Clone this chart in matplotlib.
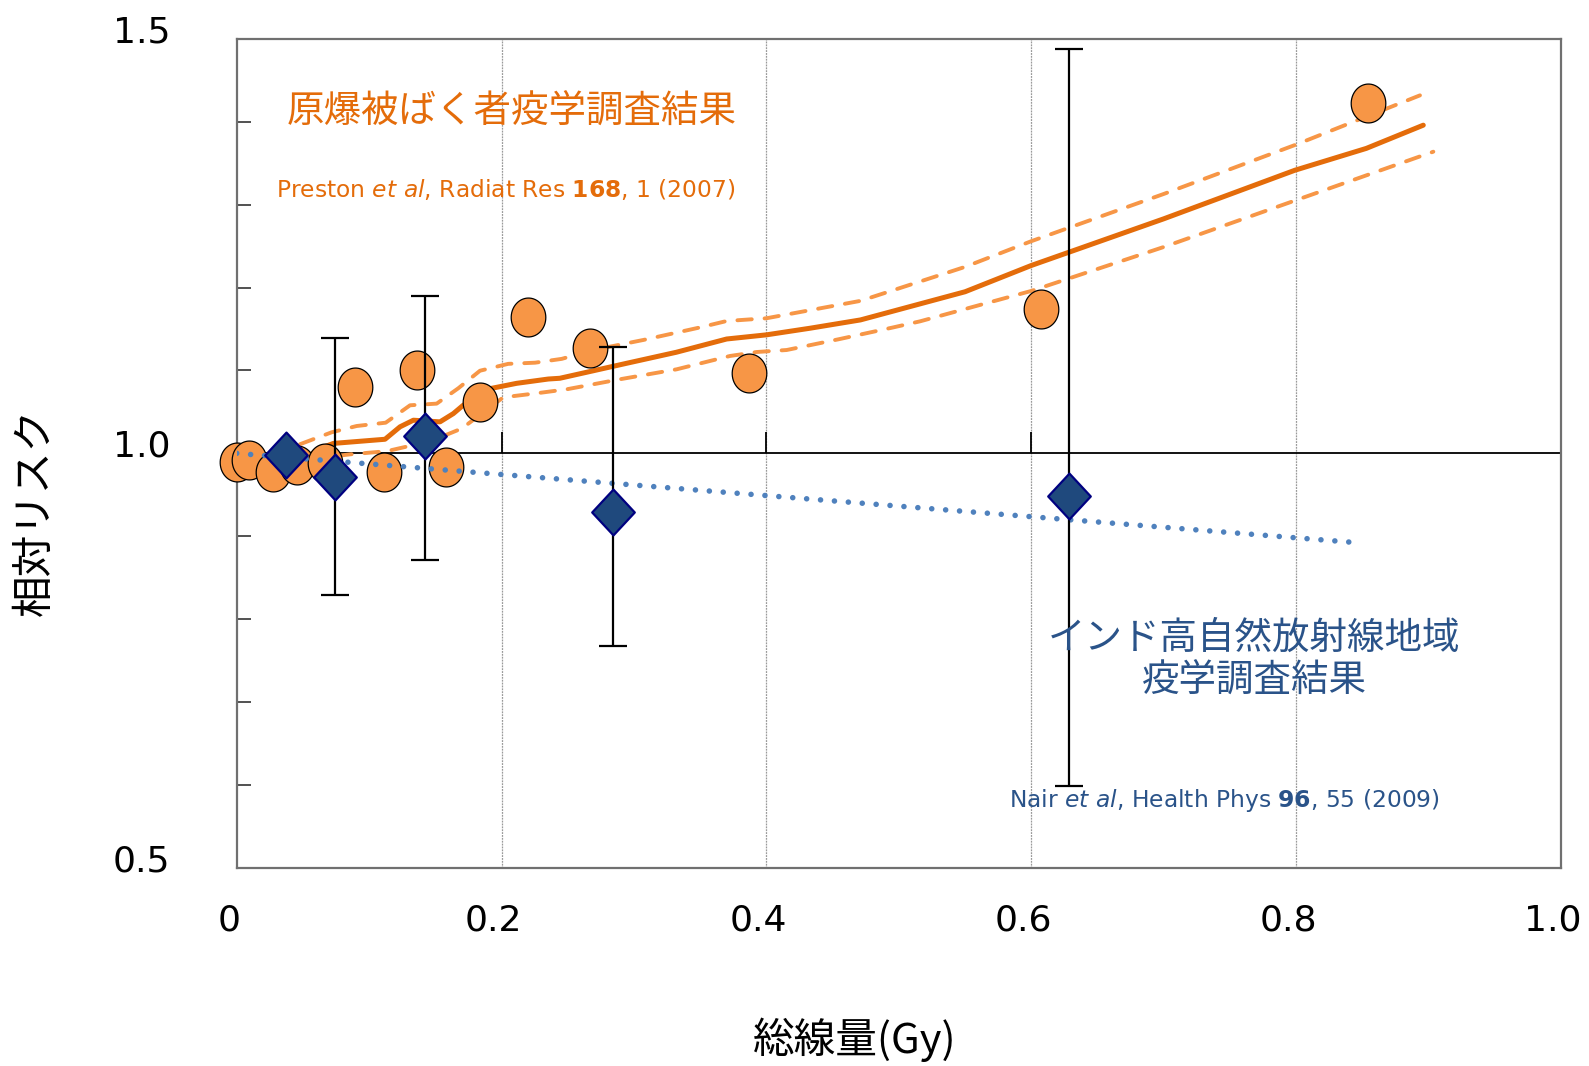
import numpy as np
import matplotlib
matplotlib.use("Agg")
import matplotlib.pyplot as plt
from matplotlib.path import Path
from matplotlib.transforms import ScaledTranslation

plt.rcParams['mathtext.fontset'] = 'dejavusans'

# 原爆被ばく者 (LSS) - 点
lss_dose = [0.0, 0.0095, 0.0277, 0.0458, 0.0667, 0.0893, 0.1115, 0.136, 0.158,
            0.1837, 0.2202, 0.2668, 0.3868, 0.607, 0.8545]
lss_rr = [0.989, 0.992, 0.977, 0.986, 0.988, 1.080, 0.978, 1.100, 0.983,
          1.062, 1.165, 1.127, 1.097, 1.174, 1.423]

# LSS 平滑化曲線と信頼区間
fit_x = [0.0555, 0.063, 0.073, 0.112, 0.1233, 0.1334, 0.1535, 0.1636, 0.171, 0.191,
         0.2114, 0.2353, 0.244, 0.2945, 0.332, 0.370, 0.400, 0.433, 0.471, 0.55,
         0.600, 0.700, 0.799, 0.853, 0.896]
fit_y = [0.998, 1.006, 1.012, 1.017, 1.032, 1.040, 1.038, 1.048, 1.058, 1.078,
         1.0845, 1.0897, 1.0906, 1.1087, 1.122, 1.138, 1.143, 1.151, 1.161, 1.195,
         1.2267, 1.283, 1.3416, 1.368, 1.396]

up_x = [0.0478, 0.0717, 0.0906, 0.1125, 0.1309, 0.151, 0.1673, 0.1837, 0.205, 0.2253,
        0.2454, 0.2693, 0.307, 0.350, 0.370, 0.400, 0.471, 0.55, 0.600, 0.700, 0.799, 0.8935]
up_y = [1.011, 1.0254, 1.033, 1.037, 1.058, 1.060, 1.0785, 1.0997, 1.108, 1.1094,
        1.114, 1.1247, 1.1368, 1.152, 1.1597, 1.163, 1.184, 1.225, 1.256, 1.313, 1.372, 1.432]

lo_x = [0.0556, 0.0856, 0.1133, 0.128, 0.1485, 0.170, 0.2013, 0.2265, 0.2492, 0.2894,
        0.3322, 0.3725, 0.3927, 0.4153, 0.4555, 0.4958, 0.516, 0.600, 0.700, 0.799, 0.9036]
lo_y = [0.993, 0.9988, 1.0026, 1.008, 1.016, 1.030, 1.0676, 1.0725, 1.0773, 1.0894,
        1.1014, 1.1175, 1.1223, 1.1247, 1.138, 1.152, 1.1593, 1.196, 1.249, 1.305, 1.364]

# インド高自然放射線地域 (HBRA)
hbra_dose = [0.0372, 0.0742, 0.1422, 0.2839, 0.6285]
hbra_rr = [0.998, 0.971, 1.021, 0.929, 0.948]
hbra_lo = [0.998, 0.829, 0.871, 0.768, 0.599]
hbra_hi = [0.998, 1.139, 1.190, 1.128, 1.488]
hbra_fit_x = [0.0, 0.8414]
hbra_fit_y = [1.0, 0.8928]

x_ticks = [0, 0.2, 0.4, 0.6, 0.8, 1.0]
x_labels = ['0', '0.2', '0.4', '0.6', '0.8', '1.0']
y_ticks = np.round(np.arange(0.5, 1.51, 0.1), 1)
y_labels = ['0.5', '', '', '', '', '1.0', '', '', '', '', '1.5']

ORANGE = '#E46C0A'
ORANGE_L = '#F79646'
NAVY = '#1F497D'
BLUE_TXT = '#2A5389'
JP = ['Noto Sans CJK JP', 'DejaVu Sans']

W, H = 1589, 1066
fig = plt.figure(figsize=(W / 100, H / 100), dpi=100)
ax = fig.add_axes([236.7 / W, 1 - 867.7 / H, (1561 - 236.7) / W, (867.7 - 39) / H])
ax.set_xlim(0, 1.0)
ax.set_ylim(0.5, 1.5)

for s in ax.spines.values():
    s.set_color('#707070')
    s.set_linewidth(1.6)

ax.set_xticks(x_ticks)
ax.set_xticklabels(x_labels)
ax.set_yticks(y_ticks)
ax.set_yticklabels(y_labels)
ax.tick_params(axis='x', length=0, pad=26, labelsize=26)
ax.tick_params(axis='y', direction='in', length=10, width=1.2, color='#333333',
               pad=48, labelsize=26)
for lbl in ax.get_yticklabels():
    lbl.set_transform(lbl.get_transform() + ScaledTranslation(0, 0.10, fig.dpi_scale_trans))
for lbl in ax.get_xticklabels():
    lbl.set_transform(lbl.get_transform() + ScaledTranslation(-0.08, 0, fig.dpi_scale_trans))

for xv in x_ticks[1:-1]:
    ax.axvline(xv, color='#9a9a9a', lw=0.9, ls=(0, (1.5, 0.8)), zorder=0.5)
ax.axhline(1.0, color='black', lw=1.3, zorder=1)
ax.vlines(x_ticks[1:4], 1.0, 1.026, color='black', lw=1.3, zorder=1)

# 曲線
ax.plot(fit_x, fit_y, color=ORANGE, lw=3.6, solid_capstyle='round', zorder=2)
ax.plot(up_x, up_y, color=ORANGE_L, lw=2.8, ls=(0, (3.7, 3.3)),
        dash_capstyle='round', zorder=2)
ax.plot(lo_x, lo_y, color=ORANGE_L, lw=2.8, ls=(0, (3.7, 3.3)),
        dash_capstyle='round', zorder=2)

# 楕円マーカー
t = np.linspace(0, 2 * np.pi, 60)
ellipse = Path(np.column_stack([0.89 * np.cos(t), np.sin(t)]), closed=True)
ax.plot(lss_dose, lss_rr, ls='none', marker=ellipse, ms=28, mfc=ORANGE_L,
        mec='black', mew=0.9, zorder=3, clip_on=False)

ax.plot(hbra_fit_x, hbra_fit_y, color='#4F81BD', lw=4.0, ls=(0, (0.01, 2.5)),
        dash_capstyle='round', zorder=4)

rr = np.array(hbra_rr[1:])
ax.errorbar(hbra_dose[1:], rr, yerr=[rr - np.array(hbra_lo[1:]), np.array(hbra_hi[1:]) - rr],
            fmt='none', ecolor='black', elinewidth=1.6, capsize=10, capthick=1.6, zorder=5)

diamond = Path([(0, 1), (0.93, 0), (0, -1), (-0.93, 0), (0, 1)], closed=True)
ax.plot(hbra_dose, hbra_rr, ls='none', marker=diamond, ms=33, mfc=NAVY,
        mec='#000080', mew=1.6, zorder=6)

# テキスト
fig.text(512 / W, 1 - 112 / H, '原爆被ばく者疫学調査結果', color=ORANGE, fontsize=27,
         family=JP, ha='center', va='center')
fig.text(276 / W, 1 - 189 / H, r'Preston $\mathit{et\ al}$, Radiat Res $\mathbf{168}$, 1 (2007)',
         color=ORANGE, fontsize=16.8, ha='left', va='center')
fig.text(1254 / W, 1 - 660 / H, 'インド高自然放射線地域\n疫学調査結果', color=BLUE_TXT,
         fontsize=27, family=JP, ha='center', va='center', multialignment='center',
         linespacing=1.12)
fig.text(1009 / W, 1 - 801 / H, r'Nair $\mathit{et\ al}$, Health Phys $\mathbf{96}$, 55 (2009)',
         color=BLUE_TXT, fontsize=16.8, ha='left', va='center')

fig.text(35 / W, 1 - 512 / H, '相対リスク', rotation=90, fontsize=30, family=JP,
         ha='center', va='center')
fig.text(855 / W, 1 - 1040 / H, '総線量(Gy)', fontsize=30, family=JP,
         ha='center', va='center')

fig.savefig('out.png', dpi=100)
